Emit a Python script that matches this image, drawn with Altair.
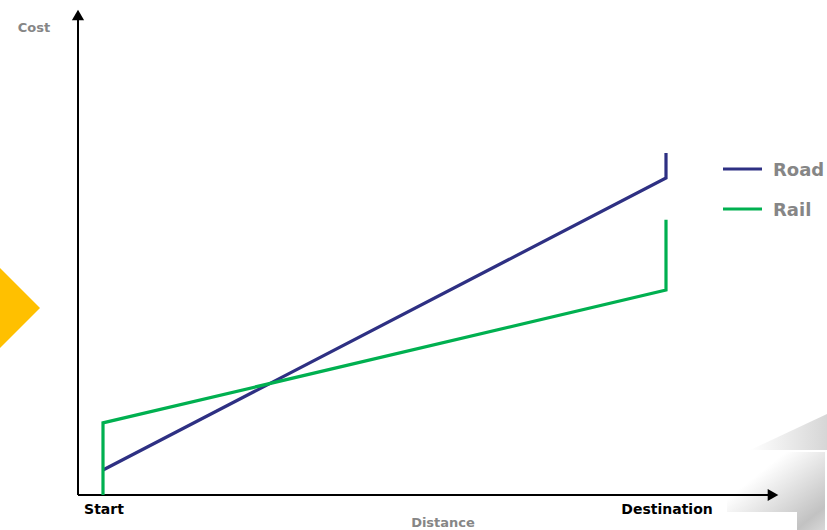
import altair as alt
import pandas as pd

# ---- data ----
series = ["Road", "Rail"]
series_colors = ["#2E3083", "#00B050"]
road_distance = [0, 100, 100]
road_cost = [5.2, 65.9, 71.1]
rail_distance = [0, 0, 100, 100]
rail_cost = [0, 15.0, 42.6, 57.2]
tick_labels = ["Start", "Destination"]
tick_positions = [0, 100]
x_title = "Distance"
y_title = "Cost"

# ---- layout helpers (pixel -> data units) ----
W, H = 827, 530
X0, XS = 103, 5.63
Y0, YS = 495, 4.81


def dx(px):
    return (px - X0) / XS


def dy(py):
    return (Y0 - py) / YS


FONT = "DejaVu Sans"
GREY = "#868686"

xscale = alt.Scale(domain=[dx(0), dx(W)], nice=False, zero=False)
yscale = alt.Scale(domain=[dy(H), dy(0)], nice=False, zero=False)
cscale = alt.Scale(domain=series, range=series_colors)

rows = []
for i, (d, c) in enumerate(zip(road_distance, road_cost)):
    rows.append({"series": "Road", "distance": d, "cost": c, "order": i})
for i, (d, c) in enumerate(zip(rail_distance, rail_cost)):
    rows.append({"series": "Rail", "distance": d, "cost": c, "order": i})
lines_df = pd.DataFrame(rows)

one = pd.DataFrame({"a": [0]})

# decorations
diamond = alt.Chart(one).mark_point(
    shape="diamond", filled=True, size=6400, color="#FFC000", opacity=1, strokeWidth=0
).encode(x=alt.value(0), y=alt.value(308))

grad_band = alt.LinearGradient(
    gradient="linear", x1=0, y1=0, x2=1, y2=0,
    stops=[alt.GradientStop(color="#ffffff", offset=0),
           alt.GradientStop(color="#d6d6d6", offset=1)])
band_df = pd.DataFrame({"x": [dx(750), dx(827)], "y": [dy(450), dy(414)], "y2": [dy(450), dy(450)]})
band = alt.Chart(band_df).mark_area(color=grad_band).encode(
    x=alt.X("x:Q", scale=xscale, axis=None),
    y=alt.Y("y:Q", scale=yscale, axis=None),
    y2="y2:Q")

grad_shadow = alt.LinearGradient(
    gradient="linear", x1=0, y1=0, x2=1, y2=1,
    stops=[alt.GradientStop(color="#ffffff", offset=0.3),
           alt.GradientStop(color="#c2c2c2", offset=0.85),
           alt.GradientStop(color="#d8d8d8", offset=1)])
shadow = alt.Chart(one).mark_rect(color=grad_shadow).encode(
    x=alt.value(727), x2=alt.value(825), y=alt.value(452), y2=alt.value(530))
white_box = alt.Chart(one).mark_rect(color="#ffffff").encode(
    x=alt.value(727), x2=alt.value(797), y=alt.value(512), y2=alt.value(530))

# axes
yaxis = alt.Chart(one).mark_rule(color="black", strokeWidth=2).transform_calculate(
    v=str(dx(78)), y0="0", y1=str(dy(16))).encode(
    y=alt.Y("y0:Q", scale=yscale, axis=None), y2="y1:Q", x=alt.X("v:Q", scale=xscale, axis=None))
xaxis = alt.Chart(one).mark_rule(color="black", strokeWidth=2).transform_calculate(
    x0=str(dx(78)), x1=str(dx(772)), v="0").encode(
    x=alt.X("x0:Q", scale=xscale, axis=None), x2="x1:Q",
    y=alt.Y("v:Q", scale=yscale, axis=None))

arrows_df = pd.DataFrame({"x": [dx(78), dx(773)], "y": [dy(15), 0], "shape": ["triangle-up", "triangle-right"]})
arrows = alt.Chart(arrows_df).mark_point(filled=True, color="black", opacity=1, size=150, strokeWidth=0).encode(
    x=alt.X("x:Q", scale=xscale, axis=None),
    y=alt.Y("y:Q", scale=yscale, axis=None),
    shape=alt.Shape("shape:N", scale=None, legend=None))

# lines
lines = alt.Chart(lines_df).mark_line(strokeWidth=3.2, strokeJoin="miter").encode(
    x=alt.X("distance:Q", scale=xscale, axis=None),
    y=alt.Y("cost:Q", scale=yscale, axis=None),
    color=alt.Color("series:N", scale=cscale, legend=None),
    order="order:Q")

# tick labels
ticks_df = pd.DataFrame({"label": tick_labels, "x": tick_positions, "y": [dy(510)] * 2})
ticks = alt.Chart(ticks_df).mark_text(
    font=FONT, fontSize=14, fontWeight="bold", color="black", baseline="middle", dx=1
).encode(x=alt.X("x:Q", scale=xscale, axis=None), y=alt.Y("y:Q", scale=yscale, axis=None), text="label:N")

titles_df = pd.DataFrame({"label": [x_title, y_title], "x": [dx(443), dx(34)], "y": [dy(523), dy(28)]})
titles = alt.Chart(titles_df).mark_text(
    font=FONT, fontSize=13, fontWeight="bold", color=GREY, baseline="middle"
).encode(x=alt.X("x:Q", scale=xscale, axis=None), y=alt.Y("y:Q", scale=yscale, axis=None), text="label:N")

# legend
leg_df = pd.DataFrame({"series": series, "x0": [dx(723)] * 2, "x1": [dx(762)] * 2,
                       "y": [dy(169), dy(209)], "tx": [dx(773)] * 2, "ty": [dy(171), dy(211)]})
leg_lines = alt.Chart(leg_df).mark_rule(strokeWidth=3.2).encode(
    x=alt.X("x0:Q", scale=xscale, axis=None), x2="x1:Q",
    y=alt.Y("y:Q", scale=yscale, axis=None),
    color=alt.Color("series:N", scale=cscale, legend=None))
leg_text = alt.Chart(leg_df).mark_text(
    font=FONT, fontSize=18, fontWeight="bold", color=GREY, align="left", baseline="middle"
).encode(x=alt.X("tx:Q", scale=xscale, axis=None), y=alt.Y("ty:Q", scale=yscale, axis=None), text="series:N")

chart = alt.layer(
    diamond, band, shadow, white_box, yaxis, xaxis, arrows, lines, ticks, titles, leg_lines, leg_text
).properties(width=W, height=H, autosize="none", padding=0).configure_view(stroke=None)

chart.save("out.html", embed_options={"renderer": "svg", "actions": False})
